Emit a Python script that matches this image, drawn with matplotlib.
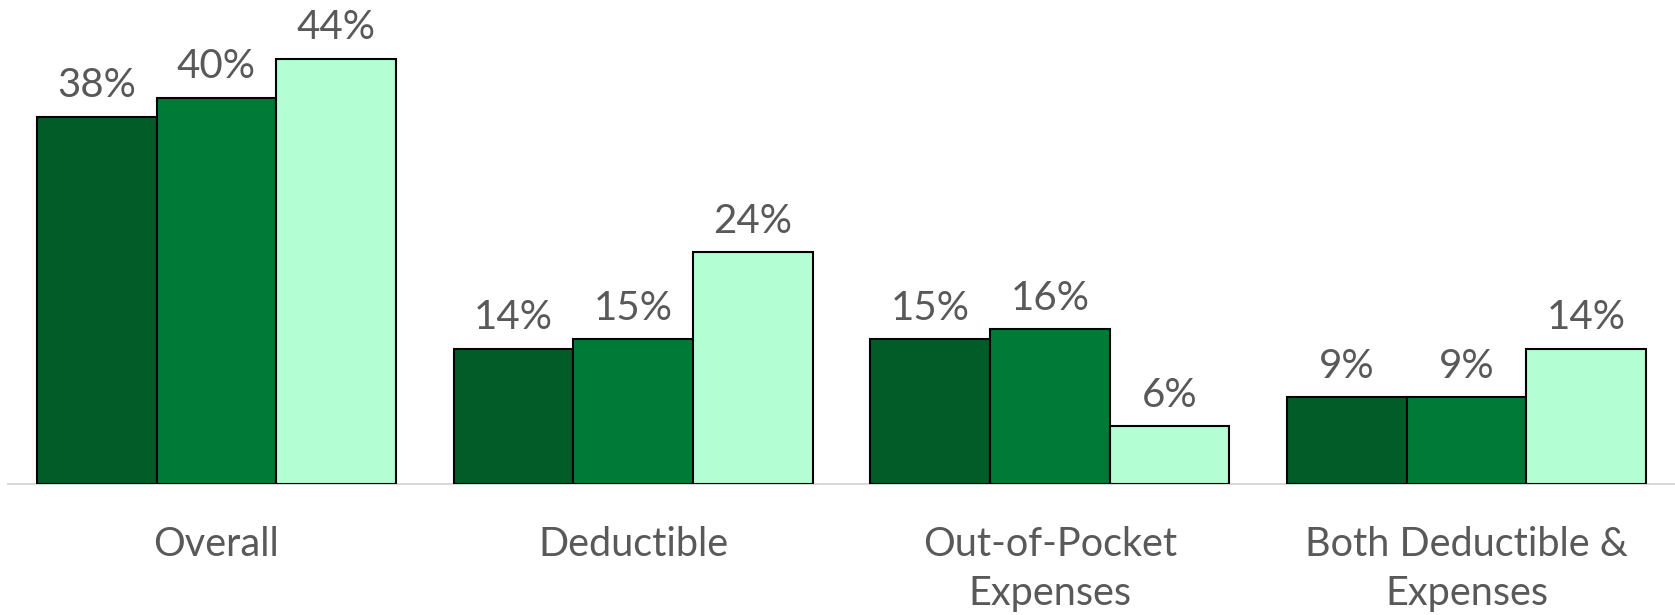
import numpy as np
import matplotlib.pyplot as plt

categories = ['Overall', 'Deductible', 'Out-of-Pocket\nExpenses', 'Both Deductible &\nExpenses']
series_a = [38, 14, 15, 9]
series_b = [40, 15, 16, 9]
series_c = [44, 24, 6, 14]

colors = ['#025C28', '#007A37', '#B3FFD3']
text_color = '#595959'

plt.rcParams['font.family'] = ['Lato', 'DejaVu Sans']

fig = plt.figure(figsize=(16.75, 6.15), dpi=100)
ax = fig.add_axes([8 / 1675, 131 / 615, 1667 / 1675, 484 / 615])

x = np.arange(len(categories))
width = 0.287
for i, vals in enumerate([series_a, series_b, series_c]):
    pos = x + (i - 1) * width
    bars = ax.bar(pos, vals, width, color=colors[i], edgecolor='black', linewidth=1.5, zorder=3)
    for b, v in zip(bars, vals):
        ax.annotate(f'{v}%', (b.get_x() + b.get_width() / 2, v), xytext=(0, 9),
                    textcoords='offset points', ha='center', va='bottom',
                    fontsize=29, color=text_color)

ax.set_xlim(-0.5, 3.5)
ax.set_ylim(0, 50.1)
ax.set_xticks(x)
ax.set_xticklabels(categories, fontsize=28.5, color=text_color, linespacing=1.42, va='top')
ax.tick_params(axis='x', length=0, pad=30)
ax.set_yticks([])
for s in ['top', 'right', 'left']:
    ax.spines[s].set_visible(False)
ax.spines['bottom'].set_color('#D9D9D9')
ax.spines['bottom'].set_linewidth(1.5)

fig.savefig('out.png', dpi=100)
